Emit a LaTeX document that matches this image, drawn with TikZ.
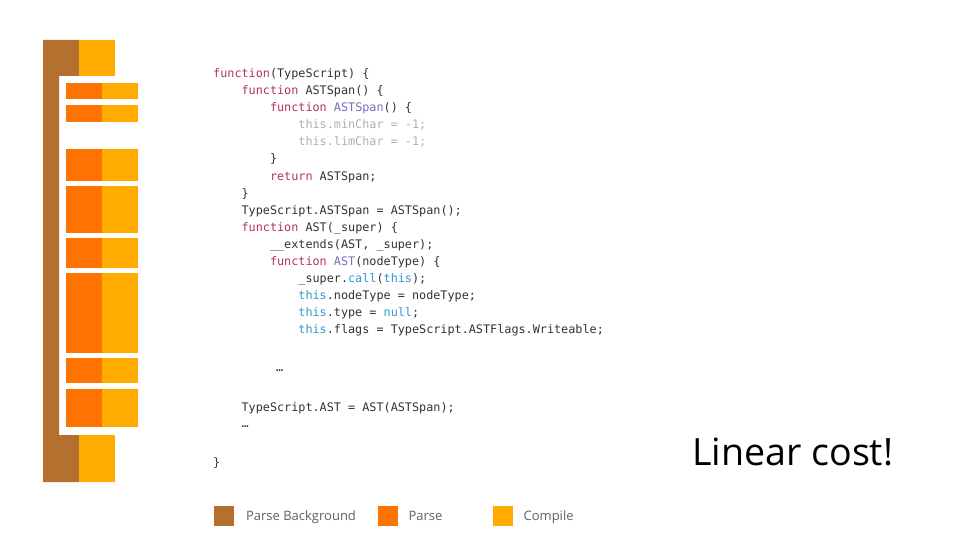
\documentclass[tikz,border=0pt]{standalone}
\usepackage{fontspec}
\usepackage{xcolor}
\usetikzlibrary{positioning}
\setsansfont{Open Sans}
\newfontfamily\codefont{DejaVu Sans Mono}
\definecolor{parsebg}{HTML}{B3702F}
\definecolor{parsecol}{HTML}{FF7400}
\definecolor{compilecol}{HTML}{FFAB00}
\definecolor{kwcol}{HTML}{B4325F}
\definecolor{fncol}{HTML}{7B6CC0}
\definecolor{thiscol}{HTML}{2A9AD4}
\definecolor{dimcol}{HTML}{B0B0B0}
\definecolor{codecol}{HTML}{333333}
\definecolor{legcol}{HTML}{616161}
\newcommand{\kw}[1]{\textcolor{kwcol}{#1}}
\newcommand{\fn}[1]{\textcolor{fncol}{#1}}
\newcommand{\ths}[1]{\textcolor{thiscol}{#1}}

\begin{document}
\begin{tikzpicture}[
  x=1pt, y=-1pt,
  code/.style={anchor=base west, inner sep=0, text=codecol,
    font=\codefont\fontsize{11.8}{17}\selectfont},
  swatch/.style={anchor=north west, minimum size=20pt, inner sep=0},
  legtext/.style={inner sep=0, text=legcol, text height=9.5pt, text depth=0pt,
    font=\sffamily\fontsize{13}{16}\selectfont},
  bigtext/.style={anchor=base west, inner sep=0,
    font=\sffamily\fontsize{37.6}{44}\selectfont}
]
\useasboundingbox[fill=white] (0,0) rectangle (960,540);

\fill[parsebg] (43,40) -- (79,40) -- (79,76) -- (59,76) -- (59,435)
  -- (79,435) -- (79,482) -- (43,482) -- cycle;
\fill[compilecol] (79,40) rectangle (115,76);
\fill[compilecol] (79,435) rectangle (115,482);
\foreach \ya/\yb in {83/99, 105/122, 149/181, 186/233, 238/268, 273/353, 358/383, 389/427} {
  \fill[parsecol] (66,\ya) rectangle (102,\yb);
  \fill[compilecol] (102,\ya) rectangle (138,\yb);
}

\node[code] (l1) at (213,78) {\kw{function}(TypeScript) \{};
\node[code] (l2) at (241.4,95) {\kw{function} ASTSpan() \{};
\node[code] (l3) at (269.8,112) {\kw{function} \fn{ASTSpan}() \{};
\node[code, text=dimcol] (l4) at (298.2,129) {this.minChar = -1;};
\node[code, text=dimcol] (l5) at (298.2,146) {this.limChar = -1;};
\node[code] (l6) at (269.8,163) {\}};
\node[code] (l7) at (269.8,180) {\kw{return} ASTSpan;};
\node[code] (l8) at (241.4,197) {\}};
\node[code] (l9) at (241.4,214) {TypeScript.ASTSpan = ASTSpan();};
\node[code] (l10) at (241.4,231) {\kw{function} AST(\_super) \{};
\node[code] (l11) at (269.8,248) {\_\_extends(AST, \_super);};
\node[code] (l12) at (269.8,265) {\kw{function} \fn{AST}(nodeType) \{};
\node[code] (l13) at (298.2,282) {\_super.\ths{call}(\ths{this});};
\node[code] (l14) at (298.2,299) {\ths{this}.nodeType = nodeType;};
\node[code] (l15) at (298.2,316) {\ths{this}.type = \ths{null};};
\node[code] (l16) at (298.2,333) {\ths{this}.flags = TypeScript.ASTFlags.Writeable;};
\node[code] (l17) at (276,371.5) {…};
\node[code] (l18) at (241.4,411) {TypeScript.AST = AST(ASTSpan);};
\node[code] (l19) at (241.4,427.5) {…};
\node[code] (l20) at (213,466) {\}};

\node[bigtext] (cost) at (692,465.7) {Linear cost!};

\node[swatch, fill=parsebg] (kbg) at (214,506) {};
\node[legtext, right=11.5pt of kbg] (tbg) {Parse Background};
\node[swatch, fill=parsecol] (kparse) at (378,506) {};
\node[legtext, right=10pt of kparse] (tparse) {Parse};
\node[swatch, fill=compilecol] (kcomp) at (493,506) {};
\node[legtext, right=10pt of kcomp] (tcomp) {Compile};
\end{tikzpicture}
\end{document}
